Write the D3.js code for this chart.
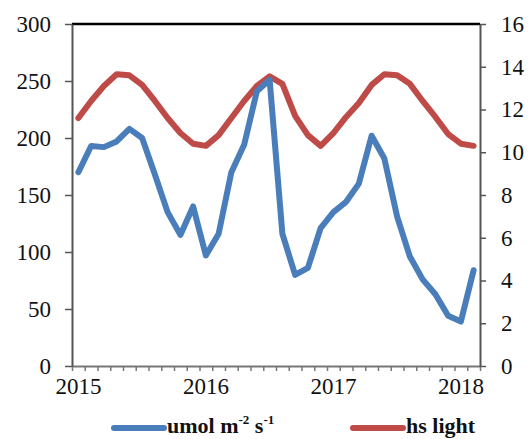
<!DOCTYPE html>
<html>
<head>
<meta charset="utf-8">
<script src="https://cdn.jsdelivr.net/npm/d3@7"></script>
<style>
  body { margin: 0; background: #fff; }
  svg { display: block; }
  .tick text { font-family: "Liberation Serif", "Times New Roman", serif; fill: #111; }
  .legend text { font-family: "Liberation Serif", "Times New Roman", serif; font-weight: bold; fill: #111; }
</style>
</head>
<body>
<div id="chart"></div>
<script>
// Categories along the x axis (one every ~0.1 year), labelled once a year
const categories = [
  "2015.0", "2015.1", "2015.2", "2015.3", "2015.4", "2015.5", "2015.6", "2015.7",
  "2015.8", "2015.9", "2016.0", "2016.1", "2016.2", "2016.3", "2016.4", "2016.5",
  "2016.6", "2016.7", "2016.8", "2016.9", "2017.0", "2017.1", "2017.2", "2017.3",
  "2017.4", "2017.5", "2017.6", "2017.7", "2017.8", "2017.9", "2018.0", "2018.1"
];
const yearTicks = ["2015.0", "2016.0", "2017.0", "2018.0"];
const yearLabels = ["2015", "2016", "2017", "2018"];

// umol m-2 s-1 (left axis)
const umol = [
  170, 193, 192, 197, 208, 200, 168, 135,
  115, 140, 97, 116, 170, 194, 241, 251,
  116, 80, 86, 121, 135, 144, 160, 202,
  182, 131, 96, 76, 63, 44, 39, 84
];
// hs light (right axis)
const hsLight = [
  11.6, 12.4, 13.1, 13.65, 13.6, 13.15, 12.4, 11.6,
  10.9, 10.4, 10.3, 10.8, 11.6, 12.4, 13.1, 13.55,
  13.2, 11.7, 10.8, 10.3, 10.9, 11.65, 12.3, 13.15,
  13.65, 13.6, 13.2, 12.4, 11.65, 10.85, 10.4, 10.3
];

const leftTicks = [0, 50, 100, 150, 200, 250, 300];
const rightTicks = [0, 2, 4, 6, 8, 10, 12, 14, 16];

const width = 528, height = 439;
const plot = { left: 72, right: 480, top: 24, bottom: 366 };
const blue = "#4a7ebb", red = "#be4b48";

const svg = d3.select("#chart").append("svg")
  .attr("width", width)
  .attr("height", height);

svg.append("rect").attr("width", width).attr("height", height).attr("fill", "#fff");

const x = d3.scaleBand()
  .domain(categories)
  .range([plot.left, plot.right]);

// boundaries between categories, for the minor tick marks
const xEdge = d3.scaleLinear()
  .domain([0, categories.length])
  .range([plot.left, plot.right]);

const yLeft = d3.scaleLinear().domain([0, 300]).range([plot.bottom, plot.top]);
const yRight = d3.scaleLinear().domain([0, 16]).range([plot.bottom, plot.top]);

const cx = d => x(d) + x.bandwidth() / 2;

// top border of the plot area
svg.append("line")
  .attr("x1", plot.left).attr("x2", plot.right)
  .attr("y1", plot.top).attr("y2", plot.top)
  .attr("stroke", "#000").attr("stroke-width", 2.5);

// x axis: tick marks between categories
const xTicks = svg.append("g")
  .attr("transform", `translate(0,${plot.bottom})`)
  .call(d3.axisBottom(xEdge)
    .tickValues(d3.range(categories.length + 1))
    .tickSize(5)
    .tickSizeOuter(0)
    .tickFormat(""));
xTicks.select(".domain").attr("stroke", "#777").attr("stroke-width", 2);
xTicks.selectAll(".tick line").attr("stroke", "#777").attr("stroke-width", 1.5);

// x axis labels
const xLabels = svg.append("g")
  .attr("transform", `translate(0,${plot.bottom})`)
  .call(d3.axisBottom(x)
    .tickValues(yearTicks)
    .tickSize(0)
    .tickPadding(11)
    .tickFormat(d => yearLabels[yearTicks.indexOf(d)]));
xLabels.select(".domain").remove();
xLabels.selectAll("text").attr("font-size", 23).attr("dy", "0.75em");

// left axis
const gl = svg.append("g")
  .attr("transform", `translate(${plot.left},0)`)
  .call(d3.axisLeft(yLeft).tickValues(leftTicks).tickSize(7).tickSizeOuter(0).tickPadding(14));
gl.select(".domain").attr("stroke", "#555").attr("stroke-width", 2);
gl.selectAll(".tick line").attr("stroke", "#555").attr("stroke-width", 1.5);
gl.selectAll("text").attr("font-size", 23);

// right axis
const gr = svg.append("g")
  .attr("transform", `translate(${plot.right},0)`)
  .call(d3.axisRight(yRight).tickValues(rightTicks).tickSize(6).tickSizeOuter(0).tickPadding(15));
gr.select(".domain").attr("stroke", "#555").attr("stroke-width", 2);
gr.selectAll(".tick line").attr("stroke", "#555").attr("stroke-width", 1.5);
gr.selectAll("text").attr("font-size", 23);

// series lines
const lineLeft = d3.line()
  .x((d, i) => cx(categories[i]))
  .y(d => yLeft(d));
const lineRight = d3.line()
  .x((d, i) => cx(categories[i]))
  .y(d => yRight(d));

svg.append("path")
  .datum(hsLight)
  .attr("d", lineRight)
  .attr("fill", "none")
  .attr("stroke", red)
  .attr("stroke-width", 6)
  .attr("stroke-linejoin", "round")
  .attr("stroke-linecap", "round");

svg.append("path")
  .datum(umol)
  .attr("d", lineLeft)
  .attr("fill", "none")
  .attr("stroke", blue)
  .attr("stroke-width", 6)
  .attr("stroke-linejoin", "round")
  .attr("stroke-linecap", "round");

// legend
const legend = svg.append("g").attr("class", "legend");
const items = [
  { color: blue, x: 114, label: "umol m", sup1: "-2", mid: " s", sup2: "-1" },
  { color: red, x: 353, label: "hs light" }
];
items.forEach(it => {
  legend.append("line")
    .attr("x1", it.x).attr("x2", it.x + 50)
    .attr("y1", 428).attr("y2", 428)
    .attr("stroke", it.color).attr("stroke-width", 6)
    .attr("stroke-linecap", "round");
  const t = legend.append("text")
    .attr("x", it.x + 53).attr("y", 433)
    .attr("font-size", 22);
  t.append("tspan").text(it.label);
  if (it.sup1) {
    t.append("tspan").attr("font-size", 13).attr("dy", -9).text(it.sup1);
    t.append("tspan").attr("dy", 9).text(it.mid);
    t.append("tspan").attr("font-size", 13).attr("dy", -9).text(it.sup2);
  }
});
</script>
</body>
</html>
